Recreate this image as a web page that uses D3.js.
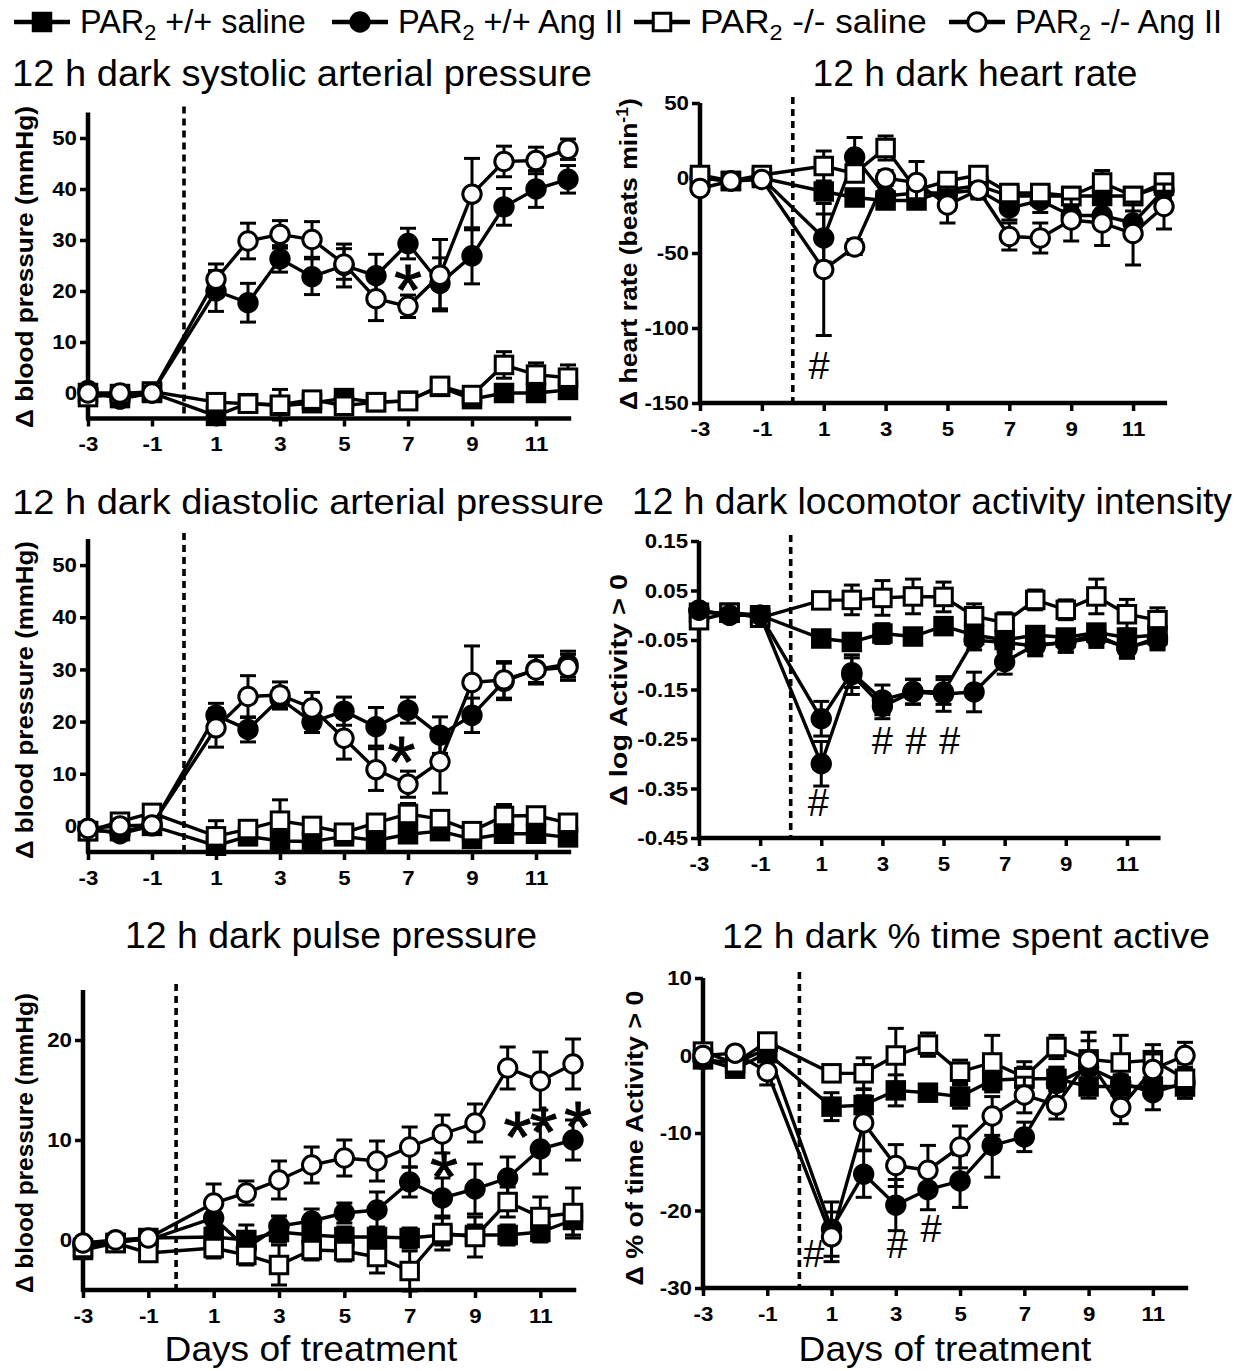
<!DOCTYPE html>
<html><head><meta charset="utf-8">
<script src="https://cdn.jsdelivr.net/npm/d3@7"></script>
<style>body{margin:0;background:#fff}svg{display:block}</style>
</head><body>
<svg id="chart" width="1242" height="1371"></svg>
<script>
// ---------- DATA ----------
const days = [-3,-2,-1,1,2,3,4,5,6,7,8,9,10,11,12];
const xTickValues = [-3,-1,1,3,5,7,9,11];
const legendLabels = ["+/+ saline","+/+ Ang II","-/- saline","-/- Ang II"];

// 12 h dark systolic arterial pressure (mmHg)
const sysWtSal = [0,-1,0,-4.5,-2,-2.5,-2,-1,-1.8,-1.5,1.2,-1.2,0,0,0.6];
const sysWtSalErr = [0.5,0.5,0.5,1,1,1,1,1,1,1,1,1,1,1,1];
const sysWtAng = [0.5,-1.2,0,20,17.7,26.3,22.8,25,23,29.3,21.5,26.9,36.5,40,41.9];
const sysWtAngErr = [0.5,0.5,0.5,4,3.8,2.6,3.5,4.2,4.2,3,5,5.5,3.6,3.6,2.7];
const sysKoSal = [-0.8,-0.2,0.3,-1.8,-2.1,-2.3,-1.3,-2.5,-1.8,-1.6,1.4,-0.4,5.5,3.6,3];
const sysKoSalErr = [0.8,0.8,0.8,1,1,3,1,1,0.8,0.8,1,1,2.6,2.3,2.5];
const sysKoAng = [0,0,0,22.3,29.8,31.1,30.1,25.3,18.5,17,23.1,39,45.4,45.6,47.8];
const sysKoAngErr = [0.5,0.5,0.5,3,3.5,2.7,3.5,3,4.3,2.2,7,7,3,2.6,2];

// 12 h dark heart rate (beats/min)
const hrWtSal = [0,-2,0,-9,-13,-15,-15,-8,-5,-12,-12,-12,-12,-12,-5];
const hrWtSalErr = [3,3,3,5,4,4,4,4,4,4,4,4,4,4,4];
const hrWtAng = [0,-2,0,-40,14,-12,-10,-10,-8,-20,-15,-25,-25,-30,-8];
const hrWtAngErr = [3,3,3,16,13,8,8,6,6,8,8,6,8,8,6];
const hrKoSal = [2,-2,2,8,3,20,-8,-2,2,-10,-10,-12,-3,-12,-3];
const hrKoSalErr = [3,3,3,10,5,8,8,5,5,5,5,5,8,5,5];
const hrKoAng = [-7,-2,-1,-61,-46,0,-3,-18,-8,-39,-40,-28,-30,-37,-19];
const hrKoAngErr = [3,3,3,44,5,5,14,12,5,9,10,14,15,21,15];

// 12 h dark diastolic arterial pressure (mmHg)
const diaWtSal = [-1,-1,0,-3.8,-2,-2.9,-3,-2,-2.8,-1.6,-1,-2.5,-1.5,-1.5,-2.2];
const diaWtSalErr = [1,1,1,1,1,1,1,1,1,1,1,1,1,1,1];
const diaWtAng = [-0.5,-1.5,0,21.2,18.5,24.4,19.9,22,19,22.2,17.4,21.2,27.7,30,31];
const diaWtAngErr = [0.5,0.5,0.5,2.3,2.4,2,2,2.7,3.7,2.5,3.5,3.3,3.5,2.5,2.5];
const diaKoSal = [-1,0.8,2.5,-2,-0.6,1,0,-1.3,0.6,2.3,1.3,-1,1.9,2,0.6];
const diaKoSalErr = [1,1,1,3,1,4,1,1,1,2,1,1,2.2,1,1];
const diaKoAng = [-0.5,0,0.2,18.8,24.8,25.1,22.6,16.8,10.8,8,12.3,27.5,28,29.9,30.4];
const diaKoAngErr = [0.5,0.5,0.5,3.7,4,2.5,3,4,4,2.5,6,7,3.5,2.7,2.5];

// 12 h dark locomotor activity intensity (log)
const locWtSal = [0.005,0.005,0,-0.047,-0.054,-0.037,-0.043,-0.022,-0.04,-0.05,-0.04,-0.045,-0.035,-0.045,-0.04];
const locWtSalErr = [0.01,0.01,0.01,0.01,0.01,0.02,0.01,0.01,0.015,0.015,0.015,0.015,0.015,0.015,0.015];
const locWtAng = [0.01,0,0,-0.30,-0.12,-0.184,-0.155,-0.159,-0.155,-0.094,-0.06,-0.055,-0.045,-0.065,-0.05];
const locWtAngErr = [0.01,0.01,0.01,0.045,0.04,0.025,0.025,0.035,0.04,0.025,0.02,0.02,0.02,0.02,0.02];
const locKoSal = [-0.01,0.005,-0.005,0.03,0.031,0.035,0.038,0.037,-0.002,-0.015,0.031,0.011,0.038,0.002,-0.01];
const locKoSalErr = [0.01,0.01,0.01,0.01,0.03,0.035,0.035,0.03,0.025,0.02,0.02,0.02,0.035,0.03,0.025];
const locKoAng = [0.01,0,0,-0.209,-0.116,-0.171,-0.154,-0.155,-0.05,-0.055,-0.062,-0.054,-0.04,-0.067,-0.045];
const locKoAngErr = [0.01,0.01,0.01,0.035,0.03,0.03,0.025,0.025,0.02,0.02,0.02,0.02,0.02,0.02,0.02];

// 12 h dark pulse pressure (mmHg)
const ppWtSal = [-1,-0.3,0.2,0.3,0,0.8,0.5,0.3,0.3,0.2,0.5,0.5,0.5,0.8,2];
const ppWtSalErr = [0.5,0.5,0.5,1,1.5,1,1,1,1,1,1,1,1,1,1.5];
const ppWtAng = [-0.5,0,0,2.2,-0.8,1.4,1.9,2.7,3,5.8,4.2,5.1,6.2,9.1,10];
const ppWtAngErr = [0.5,0.5,0.5,1.5,1.5,1,1.2,1,1.8,1.5,2,2.5,2.1,2.5,2];
const ppKoSal = [-0.8,-0.3,-1.3,-0.8,-1.5,-2.5,-1,-1.1,-1.7,-3.1,0.7,0.3,3.8,2.3,2.7];
const ppKoSalErr = [0.5,0.5,0.5,1,1,2,1,1,1.6,2,1.7,2,1.5,2,2.5];
const ppKoAng = [-0.3,0,0.2,3.7,4.7,6,7.5,8.2,7.9,9.3,10.6,11.7,17.2,15.9,17.6];
const ppKoAngErr = [0.3,0.3,0.3,1.9,1.2,1.9,1.8,1.8,2,2,1.9,1.9,2.1,2.9,2.5];

// 12 h dark % time spent active
const actWtSal = [-0.5,-1.7,0.3,-6.6,-6.4,-4.5,-4.8,-5.3,-3.2,-3,-3,-4,-4,-4,-4];
const actWtSalErr = [1,1,1,1.8,2,2,1,1.5,1.5,1.5,1.5,1.5,1.5,1.5,1.5];
const actWtAng = [-0.5,-1,0.9,-22.4,-15.3,-19.3,-17.3,-16.2,-11.6,-10.5,-3.6,-1.5,-3.5,-4.8,-3.5];
const actWtAngErr = [1,1,1,3.5,3,3.3,2.6,3.4,4.1,1.9,2,2,2,2.2,2];
const actKoSal = [0.5,-1,1.8,-2.3,-2.3,0,1.4,-2.1,-0.9,-2.8,1.1,-0.5,-0.9,-0.6,-3];
const actKoSalErr = [1,1,1,1,2,3.5,1.5,1.5,3.5,2,1.5,3.5,3.5,2,2];
const actKoAng = [0,0.3,-2.1,-23.4,-8.7,-14.2,-14.8,-11.8,-7.8,-5.1,-6.4,-0.6,-6.7,-1.8,0];
const actKoAngErr = [0.5,0.5,1.7,3.2,3.5,2.7,3.2,2.7,2.5,2.3,1.8,2.5,2.1,2,1.7];

// significance marks [day, value, symbol]
const sysMarks = [[7,22,"*"]];
const hrMarks = [[0.85,-125,"#"]];
const diaMarks = [[6.8,14,"*"]];
const locMarks = [[0.9,-0.377,"#"],[3.0,-0.252,"#"],[4.1,-0.252,"#"],[5.2,-0.252,"#"]];
const ppMarks = [[8.05,7.3,"*"],[10.3,11.3,"*"],[11.1,11.8,"*"],[12.15,12.3,"*"]];
const actMarks = [[0.45,-25.5,"#"],[3.05,-24.3,"#"],[4.1,-22.3,"#"]];

// ---------- LAYOUT ----------
const FONT = "'Liberation Sans', Arial, Helvetica, sans-serif";
const svg = d3.select("#chart");
const hy = f => (d => d3.format(f)(d).replace("\u2212", "-"));

const panels = [
  {series:[[sysWtSal,sysWtSalErr],[sysWtAng,sysWtAngErr],[sysKoSal,sysKoSalErr],[sysKoAng,sysKoAngErr]], marks:sysMarks,
   xl:88, xr:568, yDomain:[-5,55], yb:418.5, yt:112.5, yTicks:[0,10,20,30,40,50], fmt:hy("d"),
   title:"12 h dark systolic arterial pressure", tx:302, ty:75, tw:580,
   ylabel:["Δ blood pressure (mmHg)"], lx:25, ly:267, lw:322, dash:0, koAngFilled:false},
  {series:[[hrWtSal,hrWtSalErr],[hrWtAng,hrWtAngErr],[hrKoSal,hrKoSalErr],[hrKoAng,hrKoAngErr]], marks:hrMarks,
   xl:700, xr:1164, yDomain:[-150,50], yb:403, yt:103, yTicks:[-150,-100,-50,0,50], fmt:hy("d"),
   title:"12 h dark heart rate", tx:975, ty:75, tw:325,
   ylabel:["Δ heart rate (beats min","-1",")"], lx:629, ly:254, lw:312, dash:0, koAngFilled:false},
  {series:[[diaWtSal,diaWtSalErr],[diaWtAng,diaWtAngErr],[diaKoSal,diaKoSalErr],[diaKoAng,diaKoAngErr]], marks:diaMarks,
   xl:88, xr:568, yDomain:[-5,55], yb:852, yt:539, yTicks:[0,10,20,30,40,50], fmt:hy("d"),
   title:"12 h dark diastolic arterial pressure", tx:308, ty:503, tw:592,
   ylabel:["Δ blood pressure (mmHg)"], lx:25, ly:700, lw:318, dash:0, koAngFilled:false},
  {series:[[locWtSal,locWtSalErr],[locWtAng,locWtAngErr],[locKoSal,locKoSalErr],[locKoAng,locKoAngErr]], marks:locMarks,
   xl:699, xr:1157.5, yDomain:[-0.45,0.15], yb:838, yt:541, yTicks:[-0.45,-0.35,-0.25,-0.15,-0.05,0.05,0.15], fmt:hy(".2f"),
   title:"12 h dark locomotor activity intensity", tx:932, ty:503, tw:600,
   ylabel:["Δ log Activity > 0"], lx:619, ly:690, lw:232, dash:0, koAngFilled:true},
  {series:[[ppWtSal,ppWtSalErr],[ppWtAng,ppWtAngErr],[ppKoSal,ppKoSalErr],[ppKoAng,ppKoAngErr]], marks:ppMarks,
   xl:83, xr:573, yDomain:[-5,25], yb:1290, yt:990, yTicks:[0,10,20], fmt:hy("d"),
   title:"12 h dark pulse pressure", tx:331, ty:937, tw:412,
   ylabel:["Δ blood pressure (mmHg)"], lx:25, ly:1143, lw:300, dash:-0.15, koAngFilled:false, xlabel:{x:311, w:293}},
  {series:[[actWtSal,actWtSalErr],[actWtAng,actWtAngErr],[actKoSal,actKoSalErr],[actKoAng,actKoAngErr]], marks:actMarks,
   xl:703, xr:1185, yDomain:[-30,10], yb:1288, yt:978, yTicks:[-30,-20,-10,0,10], fmt:hy("d"),
   title:"12 h dark % time spent active", tx:966, ty:937, tw:488,
   ylabel:["Δ % of time Activity > 0"], lx:635, ly:1138, lw:295, dash:0, koAngFilled:false, xlabel:{x:945, w:293}}
];

// series styles: [shape, filled]
const styles = [["square",true],["circle",true],["square",false],["circle",false]];
const MS = 17.5;  // square side
const MR = 9.2;   // circle radius
const TS = 1.06;  // horizontal stretch of tick labels

function fitWidth(el, target) {
  const w = el.node().getBBox().width;
  return w > 0 ? target / w : 1;
}

function drawMarker(g, shape, filled, cx, cy) {
  if (shape === "square") {
    g.append("rect").attr("x", cx - MS/2).attr("y", cy - MS/2).attr("width", MS).attr("height", MS)
      .attr("fill", filled ? "#000" : "#fff").attr("stroke", "#000").attr("stroke-width", 3);
  } else {
    g.append("circle").attr("cx", cx).attr("cy", cy).attr("r", MR)
      .attr("fill", filled ? "#000" : "#fff").attr("stroke", "#000").attr("stroke-width", 3);
  }
}

panels.forEach(p => {
  const x = d3.scaleLinear().domain([-3, 12]).range([p.xl, p.xr]);
  const y = d3.scaleLinear().domain(p.yDomain).range([p.yb, p.yt]);
  const g = svg.append("g");
  const yMin = p.yDomain[0], yMax = p.yDomain[1];

  // dashed treatment start line
  g.append("line").attr("x1", x(p.dash)).attr("x2", x(p.dash))
    .attr("y1", y(yMax) - 6).attr("y2", y(yMin))
    .attr("stroke", "#000").attr("stroke-width", 3.6).attr("stroke-dasharray", "7,5");

  // axes (ticks via d3.axis)
  const ax = g.append("g").attr("transform", `translate(0,${y(yMin)})`)
    .call(d3.axisBottom(x).tickValues(xTickValues).tickSize(8).tickPadding(10).tickFormat(hy("d")));
  const ay = g.append("g").attr("transform", `translate(${x(-3)},0)`)
    .call(d3.axisLeft(y).tickValues(p.yTicks).tickSize(8).tickPadding(3).tickFormat(p.fmt));
  [ax, ay].forEach(a => {
    a.select(".domain").remove();
    a.selectAll(".tick line").attr("stroke", "#000").attr("stroke-width", 3.5);
    a.selectAll(".tick text").attr("fill", "#000").attr("font-family", FONT)
      .attr("font-size", 21).attr("font-weight", "bold");
  });
  ax.selectAll(".tick text").attr("x", 0).attr("transform", `scale(${TS},1)`);
  ay.selectAll(".tick text").each(function() {
    const t = d3.select(this);
    t.attr("x", (+t.attr("x")) / TS).attr("transform", `scale(${TS},1)`);
  });
  g.append("line").attr("x1", x(-3)).attr("x2", x(-3)).attr("y1", y(yMax)).attr("y2", y(yMin) + 1.5)
    .attr("stroke", "#000").attr("stroke-width", 4.5);
  g.append("line").attr("x1", x(-3) - 2).attr("x2", x(12.1)).attr("y1", y(yMin)).attr("y2", y(yMin))
    .attr("stroke", "#000").attr("stroke-width", 4.5);

  // series
  p.series.forEach(([vals, errs], si) => {
    const sg = g.append("g");
    const pts = days.map((d, i) => [d, vals[i], errs[i]]);
    pts.forEach(([d, v, e]) => {
      const cx = x(d), y1 = y(v - e), y2 = y(v + e);
      sg.append("line").attr("x1", cx).attr("x2", cx).attr("y1", y1).attr("y2", y2)
        .attr("stroke", "#000").attr("stroke-width", 3);
      [y1, y2].forEach(yy => sg.append("line").attr("x1", cx - 8).attr("x2", cx + 8)
        .attr("y1", yy).attr("y2", yy).attr("stroke", "#000").attr("stroke-width", 3));
    });
    sg.append("path").datum(pts)
      .attr("d", d3.line().x(d => x(d[0])).y(d => y(d[1])))
      .attr("fill", "none").attr("stroke", "#000").attr("stroke-width", 3.4);
    const [shape, filled0] = styles[si];
    const filled = (si === 3 && p.koAngFilled) ? true : filled0;
    pts.forEach(([d, v]) => drawMarker(sg, shape, filled, x(d), y(v)));
  });

  // significance marks
  p.marks.forEach(([d, v, s]) => {
    const fs = s === "*" ? 72 : 38;
    const off = s === "*" ? 0.48 * fs : 0.36 * fs;
    g.append("text").attr("x", x(d)).attr("y", y(v) + off)
      .attr("text-anchor", "middle").attr("font-family", FONT).attr("font-size", fs)
      .attr("stroke", s === "*" ? "#000" : "none").attr("stroke-width", s === "*" ? 0.8 : 0)
      .text(s);
  });

  // title
  const tt = svg.append("text").attr("text-anchor", "middle").attr("font-family", FONT)
    .attr("font-size", 36).attr("dy", "0.3em").attr("fill", "#000").text(p.title);
  tt.attr("transform", `translate(${p.tx},${p.ty}) scale(${fitWidth(tt, p.tw)},1)`);

  // y label
  const yl = svg.append("text").attr("text-anchor", "middle").attr("font-family", FONT)
    .attr("font-size", 24).attr("font-weight", "bold").attr("dy", "0.35em").attr("fill", "#000");
  yl.append("tspan").text(p.ylabel[0]);
  if (p.ylabel.length > 1) {
    yl.append("tspan").attr("font-size", 16).attr("dy", -9).text(p.ylabel[1]);
    yl.append("tspan").attr("dy", 9).text(p.ylabel[2]);
  }
  yl.attr("transform", `translate(${p.lx},${p.ly}) rotate(-90) scale(${fitWidth(yl, p.lw)},1)`);

  // x label
  if (p.xlabel) {
    const xl = svg.append("text").attr("text-anchor", "middle").attr("font-family", FONT)
      .attr("font-size", 36).attr("fill", "#000").text("Days of treatment");
    xl.attr("transform", `translate(${p.xlabel.x},1361) scale(${fitWidth(xl, p.xlabel.w)},1)`);
  }
});

// ---------- LEGEND ----------
const legendPos = [[42, 80, 226], [360, 398, 225], [662, 700, 227], [977, 1015, 207]];
legendLabels.forEach((lab, i) => {
  const [mx, tx, tw] = legendPos[i];
  const lg = svg.append("g");
  lg.append("line").attr("x1", mx - 28).attr("x2", mx + 28).attr("y1", 22).attr("y2", 22)
    .attr("stroke", "#000").attr("stroke-width", 4.5);
  drawMarker(lg, styles[i][0], styles[i][1], mx, 22);
  const t = lg.append("text").attr("font-family", FONT).attr("font-size", 33).attr("fill", "#000");
  t.append("tspan").text("PAR");
  t.append("tspan").attr("font-size", 22).attr("dy", 7).text("2");
  t.append("tspan").attr("dy", -7).text(" " + lab);
  t.attr("transform", `translate(${tx},33) scale(${fitWidth(t, tw)},1)`);
});
</script>
</body></html>
